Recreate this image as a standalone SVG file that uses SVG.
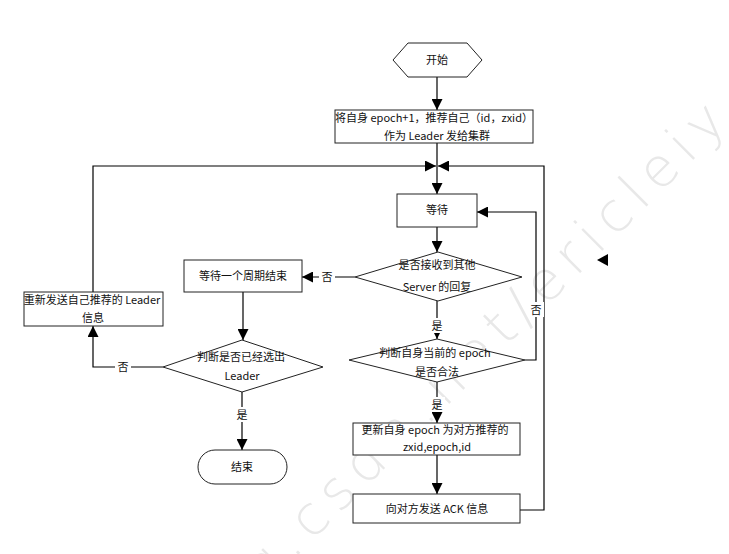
<svg xmlns="http://www.w3.org/2000/svg" width="729" height="554" viewBox="0 0 729 554">
<defs>
<marker id="ah" markerUnits="userSpaceOnUse" markerWidth="11" markerHeight="11" refX="10" refY="5" orient="auto" viewBox="0 0 10 10">
<path d="M0,0 L10,5 L0,10 z" fill="#000"/>
</marker>
<style>
.n{fill:#fff;stroke:#222;stroke-width:1}
.t{font-family:"Noto Sans CJK SC","Liberation Sans",sans-serif;font-size:11px;fill:#111;text-anchor:middle}
.c{fill:none;stroke:#000;stroke-width:1.2}
.a{marker-end:url(#ah)}
.lb{fill:#fff}
.wm{font-family:"DejaVu Sans","Liberation Sans",sans-serif;font-size:54px;font-weight:200;fill:#e8e8e8;letter-spacing:9px}
</style>
</defs>
<rect width="729" height="554" fill="#fff"/>
<text class="wm" transform="translate(735,118) rotate(-45)" text-anchor="end">blog.csdn.net/ericleiy</text>
<g id="connectors">
<path class="c a" d="M437,77 V110"/>
<path class="c a" d="M437,143 V194"/>
<path class="c a" d="M437,227 V252"/>
<path class="c a" d="M355,277 H302"/>
<path class="c a" d="M243,292 V340"/>
<path class="c a" d="M242,392 V450"/>
<path class="c a" d="M163,367 H93 V326"/>
<path class="c a" d="M93,292 V166 H436"/>
<path class="c a" d="M437,301 V339"/>
<path class="c a" d="M525,360 H536 V212 H477"/>
<path class="c a" d="M437,382 V423"/>
<path class="c a" d="M437,455 V494"/>
<path class="c a" d="M520,510 H544 V166 H438"/>
<rect class="lb" x="319" y="270" width="16" height="14"/>
<text class="t" x="327" y="281">否</text>
<rect class="lb" x="115" y="360" width="16" height="14"/>
<text class="t" x="123" y="371">否</text>
<rect class="lb" x="234" y="407" width="16" height="15"/>
<text class="t" x="242" y="419">是</text>
<rect class="lb" x="429" y="318" width="16" height="15"/>
<text class="t" x="437" y="330">是</text>
<rect class="lb" x="429" y="397" width="16" height="15"/>
<text class="t" x="437" y="409">是</text>
<rect class="lb" x="529" y="302" width="15" height="15"/>
<text class="t" x="536" y="314">否</text>
</g>
<g id="start">
<polygon class="n" points="393,60 408,43 467,43 482,60 467,77 408,77"/>
<text class="t" x="437" y="64">开始</text>
</g>
<g id="init">
<rect class="n" x="335" y="110" width="198" height="33"/>
<text class="t" x="434" y="122">将自身 epoch+1，推荐自己（id，zxid）</text>
<text class="t" x="437" y="140">作为 Leader 发给集群</text>
</g>
<g id="wait">
<rect class="n" x="397" y="194" width="80" height="33"/>
<text class="t" x="437" y="214">等待</text>
</g>
<g id="received">
<polygon class="n" points="438,252 522,277 438,301 355,277"/>
<text class="t" x="437" y="269">是否接收到其他</text>
<text class="t" x="437" y="291">Server 的回复</text>
</g>
<g id="waitcycle">
<rect class="n" x="184" y="260" width="118" height="32"/>
<text class="t" x="243" y="280">等待一个周期结束</text>
</g>
<g id="elected">
<polygon class="n" points="242,340 323,367 242,392 163,367"/>
<text class="t" x="241" y="361">判断是否已经选出</text>
<text class="t" x="242" y="380">Leader</text>
</g>
<g id="resend">
<rect class="n" x="24" y="292" width="139" height="34"/>
<text class="t" x="92" y="304">重新发送自己推荐的 Leader</text>
<text class="t" x="93" y="322">信息</text>
</g>
<g id="end">
<rect class="n" x="198" y="450" width="89" height="34" rx="17" ry="17"/>
<text class="t" x="242" y="471">结束</text>
</g>
<g id="valid">
<polygon class="n" points="437,339 525,360 437,382 349,360"/>
<text class="t" x="435" y="357">判断自身当前的 epoch</text>
<text class="t" x="437" y="376">是否合法</text>
</g>
<g id="update">
<rect class="n" x="353" y="423" width="167" height="32"/>
<text class="t" x="435" y="434">更新自身 epoch 为对方推荐的</text>
<text class="t" x="437" y="451">zxid,epoch,id</text>
</g>
<g id="ack">
<rect class="n" x="353" y="494" width="167" height="29"/>
<text class="t" x="437" y="513">向对方发送 ACK 信息</text>
</g>
<polygon points="597,260 608,254 608,266" fill="#000"/>
</svg>
